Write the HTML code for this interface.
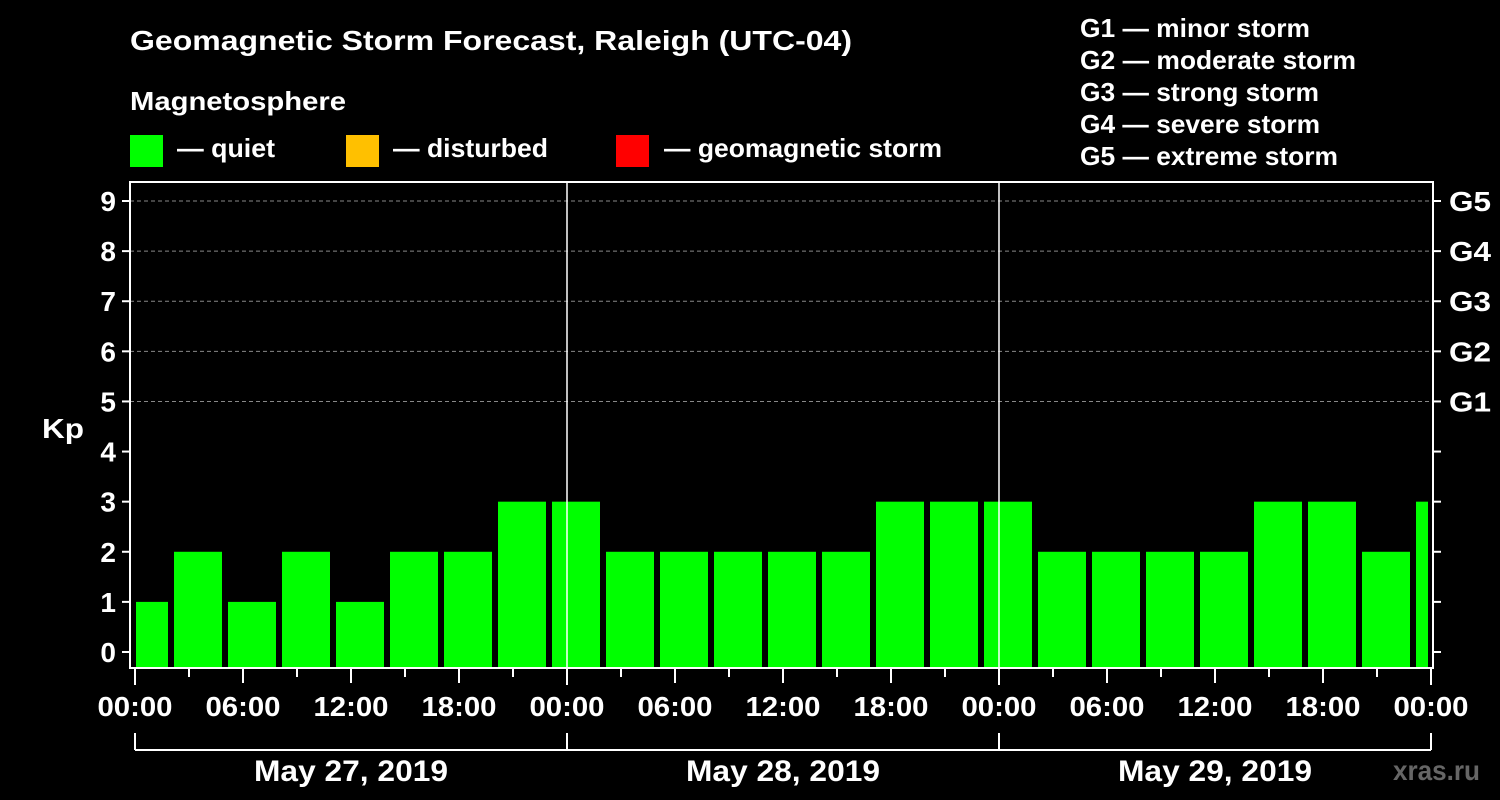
<!DOCTYPE html>
<html><head><meta charset="utf-8"><style>
body{margin:0;background:#000;}
svg{display:block;font-family:"Liberation Sans",sans-serif;font-weight:bold;}
</style></head><body>
<svg id="c" width="1500" height="800" viewBox="0 0 1500 800">
<rect width="1500" height="800" fill="#000"/>
<text x="130" y="50" fill="#fff" font-size="28" textLength="722" lengthAdjust="spacingAndGlyphs">Geomagnetic Storm Forecast, Raleigh (UTC-04)</text>
<text x="130" y="110" fill="#fff" font-size="26" textLength="216" lengthAdjust="spacingAndGlyphs">Magnetosphere</text>
<g><rect x="130" y="135" width="33" height="32" fill="#00ff00"/><text x="177" y="157" fill="#fff" font-size="26" textLength="98" lengthAdjust="spacingAndGlyphs">— quiet</text></g>
<g><rect x="346" y="135" width="33" height="32" fill="#ffc000"/><text x="393" y="157" fill="#fff" font-size="26" textLength="155" lengthAdjust="spacingAndGlyphs">— disturbed</text></g>
<g><rect x="616" y="135" width="33" height="32" fill="#ff0000"/><text x="664" y="157" fill="#fff" font-size="26" textLength="278" lengthAdjust="spacingAndGlyphs">— geomagnetic storm</text></g>
<g fill="#fff" font-size="26" lengthAdjust="spacingAndGlyphs">
<text x="1080" y="37" textLength="230" lengthAdjust="spacingAndGlyphs">G1 — minor storm</text>
<text x="1080" y="69" textLength="276" lengthAdjust="spacingAndGlyphs">G2 — moderate storm</text>
<text x="1080" y="101" textLength="239" lengthAdjust="spacingAndGlyphs">G3 — strong storm</text>
<text x="1080" y="133" textLength="240" lengthAdjust="spacingAndGlyphs">G4 — severe storm</text>
<text x="1080" y="165" textLength="258" lengthAdjust="spacingAndGlyphs">G5 — extreme storm</text>
</g>
<text x="42" y="438" fill="#fff" font-size="28" textLength="42" lengthAdjust="spacingAndGlyphs">Kp</text>
<text x="1393" y="780" fill="#666" font-size="28" textLength="87" lengthAdjust="spacingAndGlyphs">xras.ru</text>
<g id="plot"></g>
</svg>
<script>
const kpValues=[1,2,1,2,1,2,2,3,3,2,2,2,2,2,3,3,3,2,2,2,2,3,3,2,3];
const yTicks=[0,1,2,3,4,5,6,7,8,9];
const gLabels=["G1","G2","G3","G4","G5"];
const dayLabels=["May 27, 2019","May 28, 2019","May 29, 2019"];
const hourLabels=["00:00","06:00","12:00","18:00"];
const NS="http://www.w3.org/2000/svg";
const L=130,R=1433,T=182,B=668;
const x0=135,hourPx=432/24,binStart=-3+33/18;
const y=v=>652-v*50.11;
const X=h=>x0+h*hourPx;
const P=document.getElementById('plot');
function mk(t,a,parent){const e=document.createElementNS(NS,t);for(const k in a)e.setAttribute(k,a[k]);(parent||P).appendChild(e);return e;}
for(let v=5;v<=9;v++){const e=mk('line',{x1:L,x2:R,y1:y(v),y2:y(v),stroke:'#888','stroke-dasharray':'4,3','stroke-width':1});

}
kpValues.forEach((v,i)=>{
 let l=X(binStart+3*i)+6,r=X(binStart+3*(i+1));
 l=Math.max(l,L+6);r=Math.min(r,R-5);
 const c=v>=5?'#ff0000':(v>=4?'#ffc000':'#00ff00');
 const e=mk('rect',{x:l,y:y(v),width:r-l,height:B-1-y(v),fill:c});
 
 
});
for(let d=1;d<3;d++){const e=mk('line',{x1:X(24*d),x2:X(24*d),y1:T,y2:B,stroke:'#fff','stroke-width':1.5});

}
const fr=mk('rect',{x:L,y:T,width:R-L,height:B-T,fill:'none',stroke:'#fff','stroke-width':2});


yTicks.forEach(v=>{
 mk('line',{x1:L-8,x2:L,y1:y(v),y2:y(v),stroke:'#fff','stroke-width':2});
 mk('line',{x1:R,x2:R+8,y1:y(v),y2:y(v),stroke:'#fff','stroke-width':2});
 const t=mk('text',{x:L-14,y:y(v)+10,fill:'#fff','font-size':28,'text-anchor':'end'});t.textContent=v;
 
 
});
gLabels.forEach((g,i)=>{const t=mk('text',{x:1449,y:y(5+i)+10,fill:'#fff','font-size':28,textLength:42,lengthAdjust:'spacingAndGlyphs'});t.textContent=g;
 
 });
for(let h=0;h<=72;h+=3){
 const len=h%24==0?17:(h%6==0?15:9);
 mk('line',{x1:X(h),x2:X(h),y1:B,y2:B+len,stroke:'#fff','stroke-width':2});
 if(h%6==0){const t=mk('text',{x:X(h),y:716,fill:'#fff','font-size':28,'text-anchor':'middle',textLength:75,lengthAdjust:'spacingAndGlyphs'});t.textContent=hourLabels[(h%24)/6];
 
 }
}
mk('line',{x1:X(0),x2:X(72),y1:750,y2:750,stroke:'#fff','stroke-width':2});
for(let d=0;d<=3;d++)mk('line',{x1:X(24*d),x2:X(24*d),y1:733,y2:750,stroke:'#fff','stroke-width':2});
dayLabels.forEach((s,d)=>{const t=mk('text',{x:X(24*d+12),y:781,fill:'#fff','font-size':30,'text-anchor':'middle',textLength:194,lengthAdjust:'spacingAndGlyphs'});t.textContent=s;
 
 });
</script>
</body></html>
